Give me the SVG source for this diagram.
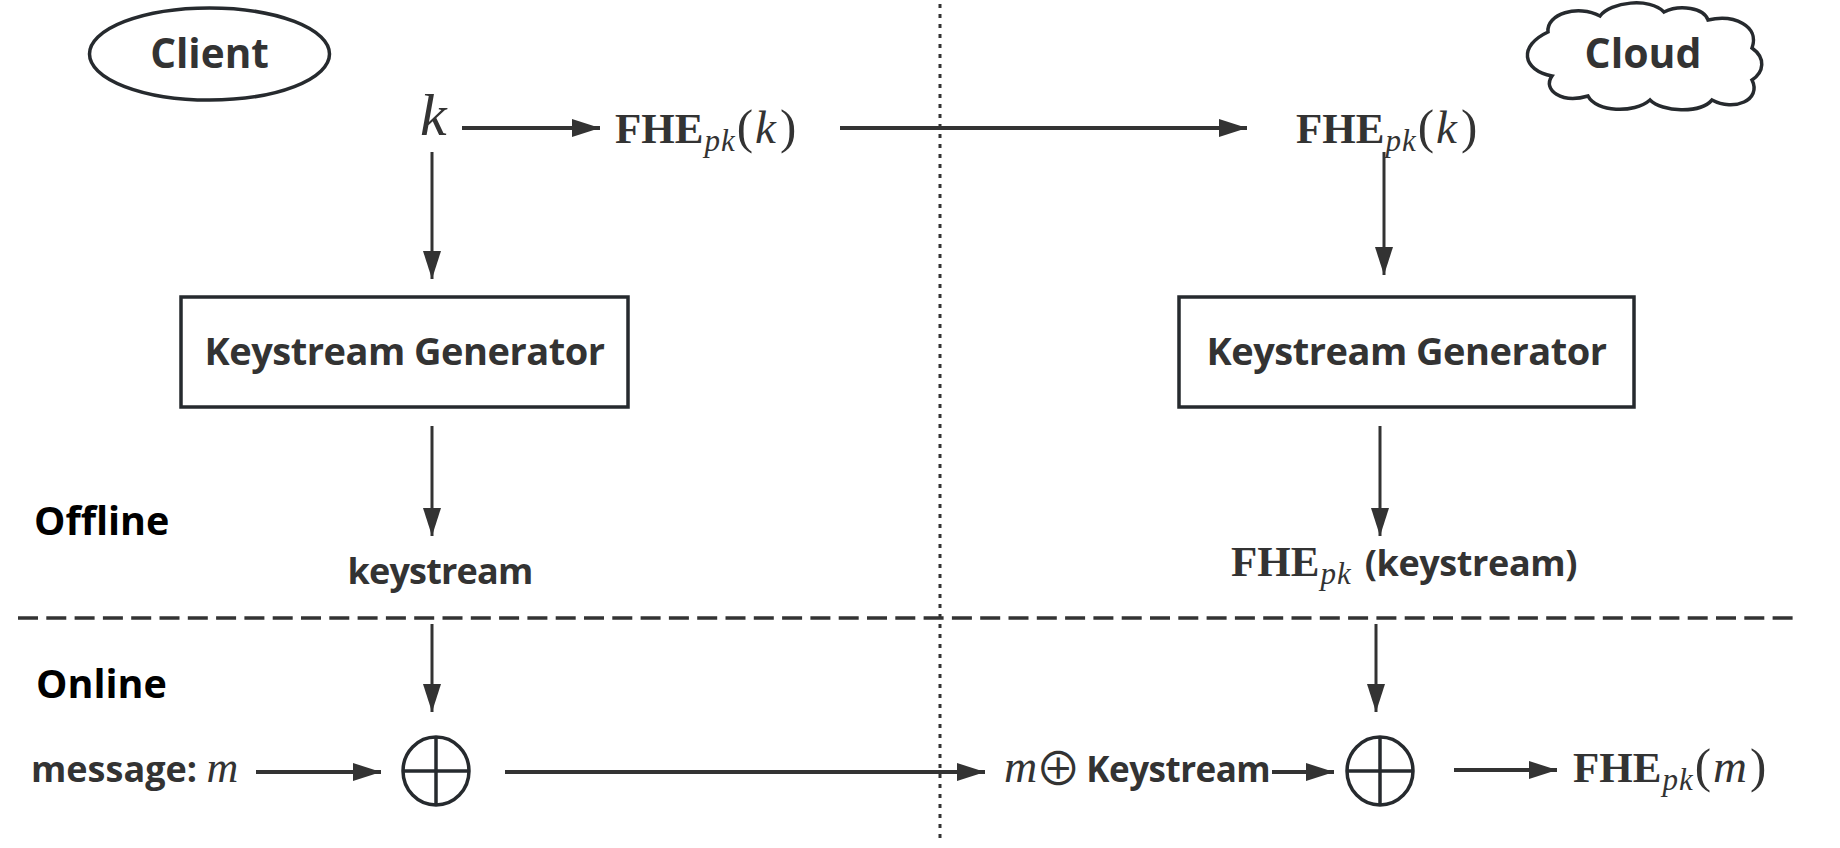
<svg xmlns="http://www.w3.org/2000/svg" width="1840" height="848" viewBox="0 0 1840 848">
  <style>
    .sans { font-family: "Open Sans", "Noto Sans", "Liberation Sans", sans-serif; font-weight: 700; fill: #333333; }
    .lbl { font-size: 38px; }
    .blk { fill: #000000; }
    .mb { font-family: "Liberation Serif", "DejaVu Serif", serif; font-weight: 700; font-size: 43px; fill: #333333; }
    .mi { font-family: "Liberation Serif", "DejaVu Serif", serif; font-style: italic; font-weight: 400; fill: #333333; }
    .mr { font-family: "Liberation Serif", "DejaVu Serif", serif; font-style: normal; font-weight: 400; fill: #333333; }
    .sub { font-size: 31px; letter-spacing: 1px; }
    .par { font-size: 49px; }
    .arg { font-size: 47px; }
    .shape { fill: #ffffff; stroke: #262a2e; stroke-width: 3.5; }
    .conn { stroke: #333333; stroke-width: 3; fill: none; }
    .thick { stroke-width: 4; }
  </style>
  <defs>
    <marker id="ah" viewBox="0 0 28 18" refX="28" refY="9" markerWidth="28" markerHeight="18" markerUnits="userSpaceOnUse" orient="auto">
      <path d="M0,0 L28,9 L0,18 Z" fill="#333333"/>
    </marker>
  </defs>

  <rect width="1840" height="848" fill="#ffffff"/>

  <g id="separators">
    <line x1="940" y1="4" x2="940" y2="842" stroke="#333333" stroke-width="3" stroke-dasharray="4 6"/>
    <line x1="18" y1="618" x2="1800" y2="618" stroke="#333333" stroke-width="3.3" stroke-dasharray="20 8.3"/>
  </g>

  <g id="client">
    <ellipse class="shape" cx="209.5" cy="54" rx="120" ry="46"/>
    <text class="sans" font-size="40.5" x="209.5" y="68" text-anchor="middle">Client</text>
  </g>

  <g id="cloud">
    <path class="shape" stroke-width="3" d="M1548,32 C1546,14 1578,4 1600,16 C1610,2 1650,-3 1664,12 C1680,4 1704,8 1708,20 C1734,14 1760,26 1752,48 C1766,58 1764,72 1752,80 C1762,100 1734,112 1712,100 C1700,114 1662,112 1650,100 C1634,114 1596,112 1588,96 C1562,104 1542,90 1552,76 C1522,70 1518,46 1548,32 Z"/>
    <text class="sans" font-size="41" x="1643" y="68" text-anchor="middle">Cloud</text>
  </g>

  <g id="key-k">
    <text class="mi" x="420" y="135" font-size="60">k</text>
  </g>

  <g id="fhe-k-client">
    <text class="mb" x="615" y="143">FHE<tspan class="mi sub" dy="8" dx="1">pk</tspan><tspan class="mr par" dy="-8" dx="1">(</tspan><tspan class="mi arg" dx="2">k</tspan><tspan class="mr par" dx="4">)</tspan></text>
  </g>

  <g id="fhe-k-cloud">
    <text class="mb" x="1296" y="143">FHE<tspan class="mi sub" dy="8" dx="1">pk</tspan><tspan class="mr par" dy="-8" dx="1">(</tspan><tspan class="mi arg" dx="2">k</tspan><tspan class="mr par" dx="4">)</tspan></text>
  </g>

  <g id="kg-client">
    <rect class="shape" x="181" y="297" width="447" height="110"/>
    <text class="sans lbl" x="404.5" y="365" text-anchor="middle" letter-spacing="-0.5">Keystream Generator</text>
  </g>

  <g id="kg-cloud">
    <rect class="shape" x="1179" y="297" width="455" height="110"/>
    <text class="sans lbl" x="1406.5" y="365" text-anchor="middle" letter-spacing="-0.5">Keystream Generator</text>
  </g>

  <g id="keystream-client">
    <text class="sans" font-size="36" x="440" y="584" text-anchor="middle" letter-spacing="-0.8">keystream</text>
  </g>

  <g id="keystream-cloud">
    <text class="mb" x="1231" y="576">FHE<tspan class="mi sub" dy="8" dx="1">pk</tspan><tspan class="sans" font-size="36" dy="-8" dx="13" letter-spacing="-0.4">(keystream)</tspan></text>
  </g>

  <g id="offline">
    <text class="sans blk" font-size="39.5" x="34" y="535">Offline</text>
  </g>

  <g id="online">
    <text class="sans blk" font-size="39.5" x="36" y="698">Online</text>
  </g>

  <g id="message">
    <text class="sans" font-size="36" x="31" y="782">message: <tspan class="mi" font-size="44">m</tspan></text>
  </g>

  <g id="xor-client">
    <ellipse class="shape" cx="436" cy="771" rx="33" ry="34"/>
    <line x1="403" y1="771" x2="469" y2="771" stroke="#262a2e" stroke-width="3.5"/>
    <line x1="436" y1="737" x2="436" y2="805" stroke="#262a2e" stroke-width="3.5"/>
  </g>

  <g id="xor-cloud">
    <ellipse class="shape" cx="1380" cy="771" rx="33" ry="34"/>
    <line x1="1347" y1="771" x2="1413" y2="771" stroke="#262a2e" stroke-width="3.5"/>
    <line x1="1380" y1="737" x2="1380" y2="805" stroke="#262a2e" stroke-width="3.5"/>
  </g>

  <g id="masked">
    <text x="1004" y="782"><tspan class="mi" font-size="46">m</tspan><tspan font-family="Noto Sans CJK JP, DejaVu Sans, sans-serif" font-weight="400" font-size="46" fill="#333333" dx="-2" dy="3">⊕</tspan><tspan class="sans" font-size="35" dx="5" dy="-3" letter-spacing="-0.5">Keystream</tspan></text>
  </g>

  <g id="fhe-m">
    <text class="mb" x="1573" y="782">FHE<tspan class="mi sub" dy="8" dx="1">pk</tspan><tspan class="mr par" dy="-8" dx="1">(</tspan><tspan class="mi arg" dx="2">m</tspan><tspan class="mr par" dx="3">)</tspan></text>
  </g>

  <g id="connectors">
    <line class="conn thick" x1="462" y1="128" x2="600" y2="128" marker-end="url(#ah)"/>
    <line class="conn thick" x1="840" y1="128" x2="1247" y2="128" marker-end="url(#ah)"/>
    <line class="conn" x1="432" y1="152" x2="432" y2="279" marker-end="url(#ah)"/>
    <line class="conn" x1="1384" y1="152" x2="1384" y2="275" marker-end="url(#ah)"/>
    <line class="conn" x1="432" y1="426" x2="432" y2="536" marker-end="url(#ah)"/>
    <line class="conn" x1="1380" y1="426" x2="1380" y2="536" marker-end="url(#ah)"/>
    <line class="conn" x1="432" y1="624" x2="432" y2="712" marker-end="url(#ah)"/>
    <line class="conn" x1="1376" y1="624" x2="1376" y2="712" marker-end="url(#ah)"/>
    <line class="conn thick" x1="256" y1="772" x2="381" y2="772" marker-end="url(#ah)"/>
    <line class="conn thick" x1="505" y1="772" x2="985" y2="772" marker-end="url(#ah)"/>
    <line class="conn thick" x1="1272" y1="772" x2="1334" y2="772" marker-end="url(#ah)"/>
    <line class="conn thick" x1="1454" y1="770" x2="1557" y2="770" marker-end="url(#ah)"/>
  </g>
</svg>
